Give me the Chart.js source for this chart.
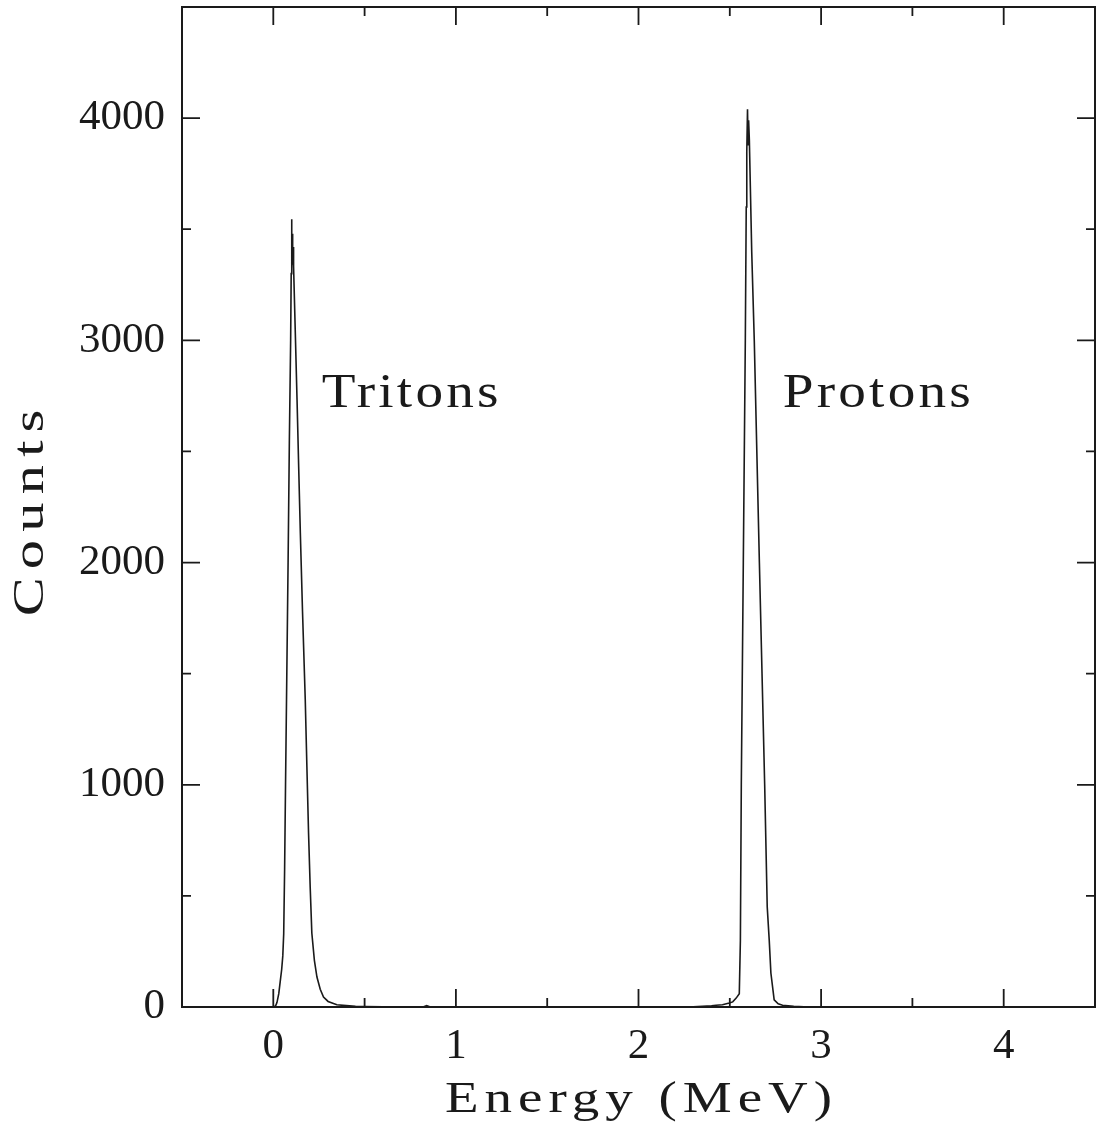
<!DOCTYPE html>
<html>
<head>
<meta charset="utf-8">
<title>Energy spectrum</title>
<script src="https://cdn.jsdelivr.net/npm/chart.js@4.4.1/dist/chart.umd.min.js"></script>
<style>
  html, body { margin: 0; padding: 0; background: #fff; }
  canvas { display: block; }
</style>
</head>
<body>
<canvas id="spectrum" width="1098" height="1140"></canvas>
<script>
// Triton peak (MeV, counts)
const tritonEnergy = [0.000, 0.012, 0.020, 0.030, 0.038, 0.046, 0.052, 0.057, 0.062, 0.067, 0.074, 0.081, 0.088, 0.095, 0.098, 0.100, 0.102, 0.104, 0.106, 0.108, 0.111, 0.120, 0.130, 0.139, 0.148, 0.160, 0.175, 0.184, 0.193, 0.202, 0.211, 0.225, 0.239, 0.257, 0.275, 0.300, 0.348, 0.400, 0.450, 0.500];
const tritonCounts = [0, 4, 20, 60, 115, 170, 230, 330, 620, 1000, 1500, 2000, 2550, 3000, 3300, 3545, 3320, 3480, 3340, 3420, 3333, 3050, 2734, 2430, 2135, 1780, 1383, 1080, 784, 540, 333, 210, 135, 80, 45, 25, 10, 6, 3, 2];

// flat region between the peaks
const gapEnergy = [0.60, 0.70, 0.82, 0.84, 0.86, 1.00, 1.20, 1.50, 1.80, 2.00, 2.20, 2.30];
const gapCounts = [1, 0, 0, 6, 0, 0, 1, 0, 0, 1, 0, 1];

// Proton peak
const protonEnergy = [2.350, 2.400, 2.425, 2.460, 2.497, 2.516, 2.535, 2.552, 2.558, 2.563, 2.574, 2.585, 2.590, 2.593, 2.597, 2.600, 2.603, 2.607, 2.620, 2.634, 2.662, 2.691, 2.705, 2.716, 2.725, 2.743, 2.765, 2.789, 2.850, 2.934];
const protonCounts = [3, 5, 8, 10, 18, 23, 40, 60, 300, 1000, 2000, 3000, 3600, 3850, 4040, 3880, 3990, 3905, 3400, 3000, 2000, 1000, 450, 300, 153, 32, 14, 8, 3, 0];

// high-energy tail
const tailEnergy = [3.10, 3.40, 3.70, 4.00, 4.30, 4.45];
const tailCounts = [0, 0, 0, 0, 0, 0];

const xTicks = [0, 1, 2, 3, 4];
const xMinorTicks = [0.5, 1.5, 2.5, 3.5];
const yTicks = [0, 1000, 2000, 3000, 4000];
const yMinorTicks = [500, 1500, 2500, 3500];

const xTitle = 'Energy (MeV)';
const yTitle = 'Counts';
const peakLabels = [
    { text: 'Tritons', x: 0.265, y: 2700 },
    { text: 'Protons', x: 2.79, y: 2700 }
];

const energies = tritonEnergy.concat(gapEnergy, protonEnergy, tailEnergy);
const counts = tritonCounts.concat(gapCounts, protonCounts, tailCounts);
const points = energies.map((e, i) => ({ x: e, y: counts[i] }));

const INK = '#1a1a1a';
const SERIF = '"Liberation Serif", "DejaVu Serif", serif';

// wide, spaced-out text like the old plotting font; align 'center' or 'left'
function wideText(ctx, text, x, y, stretch, spacing, align) {
    ctx.save();
    ctx.translate(x, y);
    ctx.scale(stretch, 1);
    ctx.letterSpacing = spacing + 'px';
    ctx.textAlign = 'left';
    const w = ctx.measureText(text).width - spacing;
    ctx.fillText(text, align === 'center' ? -w / 2 : 0, 0);
    ctx.restore();
}

// frame with inward ticks on all four sides, axis titles and peak labels
const framePlugin = {
    id: 'frame',
    afterDraw(chart) {
        const { ctx, chartArea: a, scales: { x, y } } = chart;
        ctx.save();
        ctx.strokeStyle = INK;
        ctx.lineWidth = 2;
        ctx.strokeRect(a.left, a.top, a.right - a.left, a.bottom - a.top);

        ctx.lineWidth = 1.8;
        ctx.beginPath();
        const xt = (v, len) => {
            const px = x.getPixelForValue(v);
            ctx.moveTo(px, a.bottom); ctx.lineTo(px, a.bottom - len);
            ctx.moveTo(px, a.top); ctx.lineTo(px, a.top + len);
        };
        const yt = (v, len) => {
            const py = y.getPixelForValue(v);
            ctx.moveTo(a.left, py); ctx.lineTo(a.left + len, py);
            ctx.moveTo(a.right, py); ctx.lineTo(a.right - len, py);
        };
        xTicks.forEach(v => xt(v, 18));
        xMinorTicks.forEach(v => xt(v, 9));
        yTicks.forEach(v => yt(v, 18));
        yMinorTicks.forEach(v => yt(v, 9));
        ctx.stroke();

        ctx.fillStyle = INK;
        ctx.textBaseline = 'alphabetic';

        // axis titles
        ctx.font = '44px ' + SERIF;
        wideText(ctx, xTitle, (a.left + a.right) / 2, chart.height - 28, 1.25, 4.8, 'center');
        ctx.save();
        ctx.translate(43, (a.top + a.bottom) / 2 + 6);
        ctx.rotate(-Math.PI / 2);
        ctx.font = '45px ' + SERIF;
        wideText(ctx, yTitle, 0, 0, 1.3, 6.3, 'center');
        ctx.restore();

        // peak labels
        ctx.font = '48px ' + SERIF;
        peakLabels.forEach(l => {
            wideText(ctx, l.text, x.getPixelForValue(l.x), y.getPixelForValue(l.y), 1.15, 2.8, 'left');
        });
        ctx.restore();
    }
};

new Chart(document.getElementById('spectrum'), {
    type: 'scatter',
    data: {
        datasets: [{
            data: points,
            showLine: true,
            borderColor: INK,
            borderWidth: 1.6,
            pointRadius: 0,
            tension: 0,
            fill: false
        }]
    },
    options: {
        responsive: false,
        animation: false,
        devicePixelRatio: 1,
        layout: { padding: { top: 7, right: 3, left: 0, bottom: 0 } },
        plugins: {
            legend: { display: false },
            tooltip: { enabled: false }
        },
        scales: {
            x: {
                type: 'linear',
                min: -0.5,
                max: 4.5,
                afterBuildTicks: scale => { scale.ticks = xTicks.map(v => ({ value: v })); },
                afterFit: scale => {
                    scale.height = 133;
                    scale.paddingLeft = 0;
                    scale.paddingRight = 0;
                },
                grid: { display: false, drawTicks: false },
                border: { display: false },
                ticks: {
                    padding: 14,
                    color: INK,
                    font: { family: SERIF, size: 43 },
                    maxRotation: 0,
                    callback: v => String(v)
                }
            },
            y: {
                min: 0,
                max: 4500,
                afterBuildTicks: scale => { scale.ticks = yTicks.map(v => ({ value: v })); },
                afterFit: scale => {
                    scale.width = 182;
                    scale.paddingTop = 0;
                    scale.paddingBottom = 0;
                },
                grid: { display: false, drawTicks: false },
                border: { display: false },
                ticks: {
                    padding: 17,
                    color: INK,
                    font: { family: SERIF, size: 43 },
                    callback: v => String(v)
                }
            }
        }
    },
    plugins: [framePlugin]
});
</script>
</body>
</html>
